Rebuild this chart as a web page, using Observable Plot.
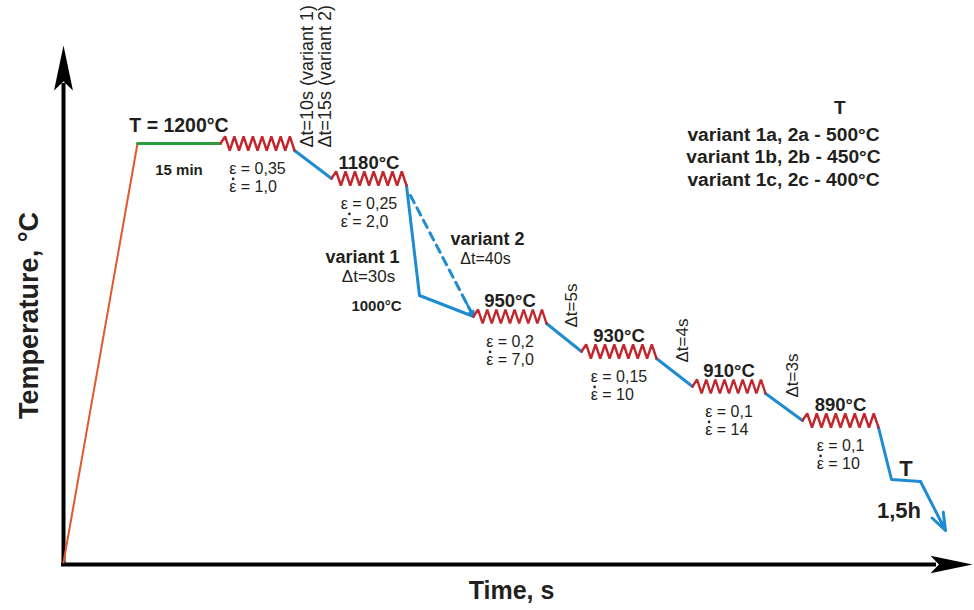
<!DOCTYPE html>
<html><head><meta charset="utf-8">
<script src="https://cdn.jsdelivr.net/npm/d3@7"></script>
<script src="https://cdn.jsdelivr.net/npm/@observablehq/plot@0.6"></script>
<style>body{margin:0;background:#fff}svg{display:block}</style>
</head><body><div id="chart"></div>
<script>
// Schematic units: t = time from the origin, L = temperature level above the time axis
const heating = [{t: 0, L: 2}, {t: 74, L: 421}];
const soaking = [{t: 74, L: 421}, {t: 157, L: 421}];
const soakLabel = "T = 1200°C";
const soakTime = "15 min";

const passStart = [157, 268, 410, 518, 629, 739];
const passEnd   = [231, 343, 483, 593, 702, 815];
const passLevel = [421, 386, 248, 213, 178, 144];
const passLabel = ["", "1180°C", "950°C", "930°C", "910°C", "890°C"];
const passStrain = ["0,35", "0,25", "0,2", "0,15", "0,1", "0,1"];
const passRate = ["1,0", "2,0", "7,0", "10", "14", "10"];
const rateDotAside = [false, true, false, false, false, false];

const firstPause = "Δt=10s (variant 1)\nΔt=15s (variant 2)";
const pauseAfter = [2, 3, 4];
const pauseText = ["Δt=5s", "Δt=4s", "Δt=3s"];

const variant1Knee = {t: 356, L: 269};
const variant1KneeLabel = "1000°C";
const variant2Start = {t: 347, L: 369};

const finalHold = [{t: 828, L: 85}, {t: 857, L: 83}];
const finalEnd = {t: 882, L: 34};

const variantNames = [{t: 299, L: 302, text: "variant 1"}, {t: 424, L: 320, text: "variant 2"}];
const variantPauses = [{t: 305, L: 283, text: "Δt=30s", size: 17}, {t: 422, L: 301, text: "Δt=40s", size: 16}];
const legendTitle = "T";
const legendLines = ["variant 1a, 2a - 500°C", "variant 1b, 2b - 450°C", "variant 1c, 2c - 400°C"];
const xTitle = "Time, s";
const yTitle = "Temperature, °C";
const timeAxisEnd = 909;
const tempAxisEnd = 519;

// styles
const ink = "#231f20";
const blue = "#1f8bd0";
const zigRed = "#c1272d";
const amp = 7;
const teeth = 8;
const font = "'Liberation Sans', Arial, sans-serif";
const strainSize = 16;
const strainLH = 1.16;

const zig = [];
passStart.forEach((s, i) => {
  const e = passEnd[i], L = passLevel[i];
  for (let k = 0; k <= 2 * teeth; k++) {
    zig.push({pass: i, t: s + k * (e - s) / (2 * teeth), L: k === 0 ? L : (k % 2 ? L + amp : L - amp)});
  }
});

const transfers = [];
for (let i = 0; i < passStart.length - 1; i++) {
  if (i === 1) {
    transfers.push({seg: i, t: passEnd[i], L: passLevel[i] - amp}, {seg: i, ...variant1Knee}, {seg: i, t: passStart[i + 1], L: passLevel[i + 1]});
  } else {
    transfers.push({seg: i, t: passEnd[i], L: passLevel[i] - amp}, {seg: i, t: passStart[i + 1], L: passLevel[i + 1]});
  }
}
const last = passStart.length - 1;
const cooling = [{t: passEnd[last], L: passLevel[last] - amp}, ...finalHold];

const ctx = document.createElement("canvas").getContext("2d");
ctx.font = `${strainSize}px ${font}`;
const epsW = ctx.measureText("ε").width;
const passes = passStart.map((s, i) => ({
  i, mid: (s + passEnd[i]) / 2, L: passLevel[i], label: passLabel[i],
  strain: `ε = ${passStrain[i]}`, rate: `ε = ${passRate[i]}`
}));
passes.forEach(p => { p.w = ctx.measureText(p.strain).width; p.left = p.mid - p.w / 2; });
const strainDy = 17;
const rateBaseline = strainDy + 0.71 * strainSize + strainLH * strainSize;

const arrowHead = {
  draw(c, size) {
    const r = Math.sqrt(size / Math.PI);
    c.moveTo(0, 0);
    c.lineTo(-0.21 * r, r);
    c.lineTo(0, 0.8 * r);
    c.lineTo(0.21 * r, r);
    c.closePath();
  }
};

const v2end = {t: passStart[2], L: passLevel[2]};
const v2arrowFrom = {t: v2end.t - 0.12 * (v2end.t - variant2Start.t), L: v2end.L - 0.12 * (v2end.L - variant2Start.L)};

const chart = Plot.plot({
  width: 974, height: 610,
  marginLeft: 63, marginRight: 2, marginTop: 0, marginBottom: 46,
  x: {domain: [0, 909], axis: null},
  y: {domain: [0, 564], axis: null},
  style: {fontFamily: font, background: "#fff", color: ink},
  marks: [
    // axes
    Plot.ruleY([0], {x1: -2, x2: timeAxisEnd - 36, stroke: "#000", strokeWidth: 4}),
    Plot.ruleX([0], {y1: -2, y2: tempAxisEnd - 38, stroke: "#000", strokeWidth: 4}),
    Plot.dot([{t: timeAxisEnd, L: 0}], {x: "t", y: "L", r: 42, symbol: arrowHead, rotate: 90, fill: "#000", stroke: null}),
    Plot.dot([{t: 0, L: tempAxisEnd}], {x: "t", y: "L", r: 45, symbol: arrowHead, fill: "#000", stroke: null}),
    // profile
    Plot.line(heating, {x: "t", y: "L", stroke: "#e4572e", strokeWidth: 2}),
    Plot.line(soaking, {x: "t", y: "L", stroke: "#2a9d3c", strokeWidth: 3}),
    Plot.line(transfers, {x: "t", y: "L", z: "seg", stroke: blue, strokeWidth: 3}),
    Plot.line([variant2Start, v2end], {x: "t", y: "L", stroke: blue, strokeWidth: 3, strokeDasharray: "8,6"}),
    Plot.arrow([0], {x1: () => v2arrowFrom.t, y1: () => v2arrowFrom.L, x2: () => v2end.t, y2: () => v2end.L, stroke: blue, strokeWidth: 2.5, headLength: 9, headAngle: 50}),
    Plot.line(cooling, {x: "t", y: "L", stroke: blue, strokeWidth: 3}),
    Plot.arrow([0], {x1: () => finalHold[1].t, y1: () => finalHold[1].L, x2: () => finalEnd.t, y2: () => finalEnd.L, stroke: blue, strokeWidth: 3, headLength: 12, headAngle: 40}),
    Plot.line(zig, {x: "t", y: "L", z: "pass", stroke: zigRed, strokeWidth: 2.4, strokeLinejoin: "miter"}),
    // soaking labels
    Plot.text([soakLabel], {x: () => (soaking[0].t + soaking[1].t) / 2, y: () => soaking[0].L, lineAnchor: "bottom", dy: -12, fontSize: 19.5, fontWeight: "bold", fill: ink}),
    Plot.text([soakTime], {x: () => (soaking[0].t + soaking[1].t) / 2, y: () => soaking[0].L, lineAnchor: "bottom", dy: 31, fontSize: 15, fontWeight: "bold", fill: ink}),
    // pass labels
    Plot.text(passes.filter(p => p.label), {x: "mid", y: "L", text: "label", lineAnchor: "bottom", dy: -10, fontSize: 18.5, fontWeight: "bold", fill: ink}),
    Plot.text(passes, {x: "left", y: "L", text: p => `${p.strain}\n${p.rate}`, textAnchor: "start", lineAnchor: "top", dy: strainDy, lineHeight: strainLH, fontSize: strainSize, fill: ink}),
    // rate dots (strain-rate symbol)
    Plot.dot(passes, {x: p => p.left + (rateDotAside[p.i] ? epsW + 1.5 : epsW / 2 + 0.3), y: "L", dy: rateBaseline - 11.5, r: 1.3, fill: ink, stroke: null}),
    // pauses
    Plot.text([firstPause], {x: () => passStart[1], y: () => passLevel[0], rotate: -90, textAnchor: "start", lineAnchor: "bottom", lineHeight: 0.95, dx: -1, dy: 4, fontSize: 18, fill: ink}),
    Plot.text(pauseAfter, {x: i => passStart[i + 1], y: i => passLevel[i], text: (d, j) => pauseText[j], rotate: -90, textAnchor: "start", lineAnchor: "bottom", dx: -5, dy: 11, fontSize: 17, fill: ink}),
    // variants
    Plot.text(variantNames, {x: "t", y: "L", text: "text", fontSize: 18, fontWeight: "bold", lineAnchor: "bottom", fill: ink}),
    Plot.text(variantPauses, {x: "t", y: "L", text: "text", fontSize: "size", lineAnchor: "bottom", fill: ink}),
    Plot.text([variant1KneeLabel], {x: () => variant1Knee.t, y: () => variant1Knee.L, lineAnchor: "bottom", dx: -43, dy: 15, fontSize: 15, fontWeight: "bold", fill: ink}),
    // final hold labels
    Plot.text(["T"], {x: () => (finalHold[0].t + finalHold[1].t) / 2, y: () => (finalHold[0].L + finalHold[1].L) / 2, lineAnchor: "bottom", dy: -5, fontSize: 22, fontWeight: "bold", fill: ink}),
    Plot.text(["1,5h"], {x: () => (finalHold[0].t + finalHold[1].t) / 2, y: () => (finalHold[0].L + finalHold[1].L) / 2, lineAnchor: "bottom", dx: -7, dy: 37, fontSize: 22, fontWeight: "bold", fill: ink}),
    // legend
    Plot.text([legendTitle], {frameAnchor: "top-right", lineAnchor: "bottom", dx: -127, dy: 113, fontSize: 19, fontWeight: "bold", fill: ink}),
    Plot.text([legendLines.join("\n")], {frameAnchor: "top-right", textAnchor: "middle", lineAnchor: "bottom", lineHeight: 1.15, dx: -189, dy: 185, fontSize: 19.2, fontWeight: "bold", fill: ink}),
    // axis titles
    Plot.text([yTitle], {frameAnchor: "left", rotate: -90, textAnchor: "middle", lineAnchor: "bottom", dx: -26, dy: 33, fontSize: 27, fontWeight: "bold", fill: ink}),
    Plot.text([xTitle], {frameAnchor: "bottom", textAnchor: "middle", lineAnchor: "bottom", dx: -6.5, dy: 34, fontSize: 25, fontWeight: "bold", fill: ink})
  ]
});
document.getElementById("chart").appendChild(chart);
</script>
</body></html>
